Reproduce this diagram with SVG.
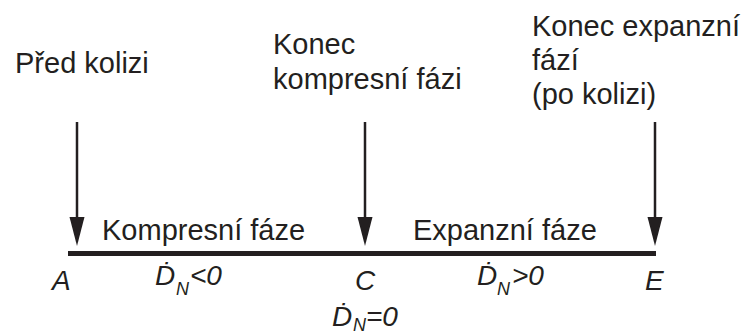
<svg xmlns="http://www.w3.org/2000/svg" width="745" height="334" viewBox="0 0 745 334">
<defs>
<style>
.t{font-family:"Liberation Sans","DejaVu Sans",sans-serif;font-size:29px;fill:#231f20}
.i{font-family:"Liberation Sans","DejaVu Sans",sans-serif;font-style:italic;font-size:28px;fill:#231f20}
.s{font-size:18px}
.shaft{stroke:#231f20;stroke-width:2.5;fill:none}
.head{fill:#231f20}
</style>
</defs>
<rect width="745" height="334" fill="#fff"/>
<g id="connectors">
<line x1="68" y1="253.5" x2="656" y2="253.5" stroke="#231f20" stroke-width="5"/>
<g id="arrowA"><line class="shaft" x1="77" y1="122" x2="77" y2="220"/><polygon class="head" points="69.5,217 84.5,217 77,246"/></g>
<g id="arrowC"><line class="shaft" x1="365" y1="122" x2="365" y2="220"/><polygon class="head" points="357.5,217 372.5,217 365,246"/></g>
<g id="arrowE"><line class="shaft" x1="655" y1="122" x2="655" y2="220"/><polygon class="head" points="647.5,217 662.5,217 655,246"/></g>
</g>
<g id="nodeA">
<text class="t" x="15" y="73">Před kolizi</text>
<text class="i" x="52" y="290">A</text>
</g>
<g id="nodeC">
<text class="t" x="273" y="54">Konec</text>
<text class="t" x="273" y="89">kompresní fázi</text>
<text class="i" x="355" y="290">C</text>
<text class="i" x="332" y="326">Ḋ</text><text class="i s" x="353" y="331">N</text><text class="i" x="366" y="326">=0</text>
</g>
<g id="nodeE">
<text class="t" x="532" y="36">Konec expanzní</text>
<text class="t" x="532" y="70">fází</text>
<text class="t" x="532" y="104">(po kolizi)</text>
<text class="i" x="645" y="290">E</text>
</g>
<g id="phases">
<text class="t" x="102" y="240">Kompresní fáze</text>
<text class="t" x="413" y="240">Expanzní fáze</text>
<text class="i" x="155" y="285">Ḋ</text><text class="i s" x="176" y="295">N</text><text class="i" x="190" y="285">&lt;0</text>
<text class="i" x="477" y="285">Ḋ</text><text class="i s" x="497" y="295">N</text><text class="i" x="512" y="285">&gt;0</text>
</g>
</svg>
